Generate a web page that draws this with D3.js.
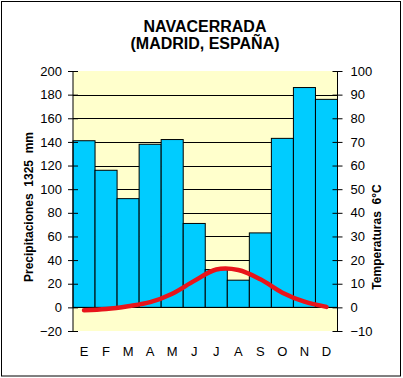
<!DOCTYPE html>
<html><head><meta charset="utf-8">
<script src="https://cdn.jsdelivr.net/npm/d3@7"></script>
<style>html,body{margin:0;padding:0;background:#fff;}svg{display:block;font-family:Arial,"Liberation Sans",sans-serif;}</style>
</head><body>
<script>
const months = ["E","F","M","A","M","J","J","A","S","O","N","D"];
const precip = [141, 116, 92, 138, 142, 71, 32, 23, 63, 143, 186, 176];
const temps = [-1.2, -0.7, 0.5, 2.2, 5.8, 11.2, 16.0, 15.8, 11.9, 6.2, 2.4, 0.2];
const precipTicks = [-20,0,20,40,60,80,100,120,140,160,180,200];
const tempTicks = [-10,0,10,20,30,40,50,60,70,80,90,100];
const titleLines = ["NAVACERRADA","(MADRID, ESPAÑA)"];
const leftTitle = "Precipitaciones  1325  mm";
const rightTitle = "Temperaturas  6°C";

const W = 403, H = 378;
const L = 73, R = 337.5, T = 71, B = 331;
const svg = d3.select("body").append("svg").attr("width", W).attr("height", H);

svg.append("rect").attr("x",1.5).attr("y",1.5).attr("width",399).attr("height",374.5)
  .attr("fill","#fff").attr("stroke","#000").attr("stroke-width",1);

const x = d3.scaleBand().domain(d3.range(12)).range([L, R]).padding(0);
const y = d3.scaleLinear().domain([-20, 200]).range([B, T]);
const yT = d3.scaleLinear().domain([-10, 100]).range([B, T]);

// plot background
svg.append("rect").attr("x", L).attr("y", T).attr("width", R - L).attr("height", B - T).attr("fill", "#FFFFCC");

// gridlines
svg.append("g").selectAll("line").data(precipTicks.filter(d => d > -20 && d < 200)).join("line")
  .attr("x1", L).attr("x2", R).attr("y1", d => Math.round(y(d)) + 0.5).attr("y2", d => Math.round(y(d)) + 0.5)
  .attr("stroke", "#000").attr("stroke-width", 1);

// bars
svg.append("g").selectAll("rect").data(precip).join("rect")
  .attr("x", (d, i) => x(i)).attr("width", x.bandwidth())
  .attr("y", d => y(d)).attr("height", d => y(0) - y(d))
  .attr("fill", "#00CCFF").attr("stroke", "#000").attr("stroke-width", 1);

// zero line on top
svg.append("line").attr("x1", L).attr("x2", R).attr("y1", Math.round(y(0)) + 0.5).attr("y2", Math.round(y(0)) + 0.5)
  .attr("stroke", "#000");

// temperature line
const line = d3.line().x((d, i) => x(i) + x.bandwidth() / 2).y(d => yT(d)).curve(d3.curveCatmullRom.alpha(0.5));
svg.append("path").datum(temps).attr("d", line).attr("fill", "none")
  .attr("stroke", "#E8141A").attr("stroke-width", 4.5).attr("stroke-linecap", "round").attr("stroke-linejoin", "round");

// axes
const leftAxis = d3.axisLeft(y).tickValues(precipTicks).tickSize(5).tickPadding(6);
const gL = svg.append("g").attr("transform", `translate(${L},0)`).call(leftAxis);
const rightAxis = d3.axisRight(yT).tickValues(tempTicks).tickSize(5).tickPadding(8);
const gR = svg.append("g").attr("transform", `translate(${R},0)`).call(rightAxis);
[gL, gR].forEach(g => {
  g.select(".domain").attr("d", `M0,${T}V${B}`).attr("stroke", "#000");
  g.selectAll(".tick line").attr("stroke", "#000");
  g.selectAll("text").attr("font-size", 13).attr("fill", "#000").attr("font-family", "Arial, 'Liberation Sans', sans-serif");
});
gL.selectAll(".tick line").attr("x1", 5).attr("x2", -5);
gR.selectAll(".tick line").attr("x1", -5).attr("x2", 5);

// month labels
svg.append("g").selectAll("text").data(months).join("text")
  .attr("x", (d, i) => x(i) + x.bandwidth() / 2).attr("y", 356)
  .attr("text-anchor", "middle").attr("font-size", 13).text(d => d);

// titles
svg.append("g").selectAll("text").data(titleLines).join("text")
  .attr("x", 205).attr("y", (d, i) => 32 + i * 17)
  .attr("text-anchor", "middle").attr("font-size", 16).attr("font-weight", "bold").text(d => d);

svg.append("text").attr("transform", "translate(33,207) rotate(-90)").style("white-space", "pre")
  .attr("text-anchor", "middle").attr("font-size", 12).attr("font-weight", "bold").text(leftTitle);
svg.append("text").attr("transform", "translate(381,237) rotate(-90)").style("white-space", "pre")
  .attr("text-anchor", "middle").attr("font-size", 12).attr("font-weight", "bold").text(rightTitle);
</script>
</body></html>
